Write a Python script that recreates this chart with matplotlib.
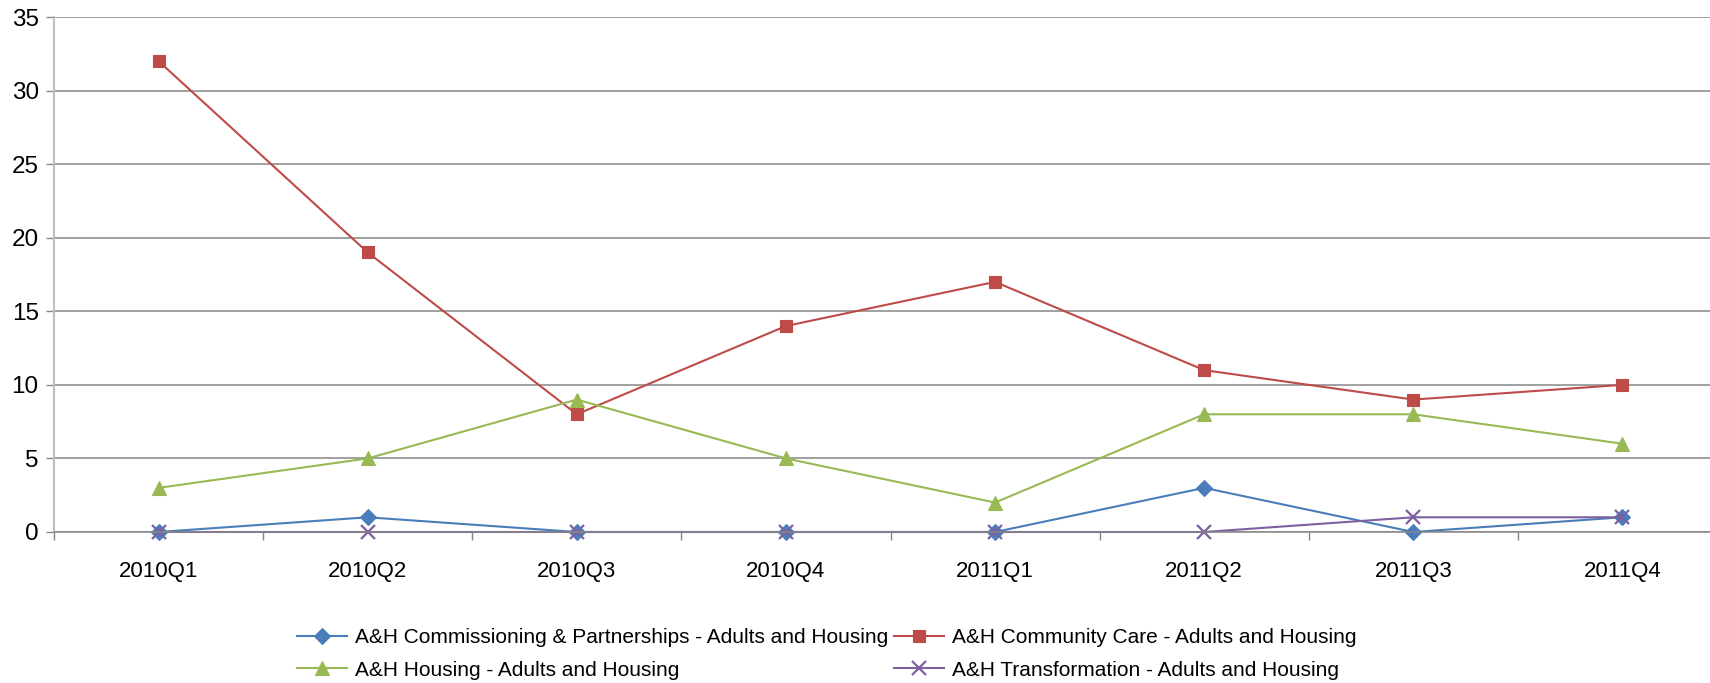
import matplotlib
matplotlib.use("Agg")
import matplotlib.pyplot as plt
from matplotlib.ticker import FixedLocator, NullFormatter

plt.rcParams["font.family"] = ["Liberation Sans", "DejaVu Sans"]

quarters = ["2010Q1", "2010Q2", "2010Q3", "2010Q4", "2011Q1", "2011Q2", "2011Q3", "2011Q4"]
commissioning = [0, 1, 0, 0, 0, 3, 0, 1]
community_care = [32, 19, 8, 14, 17, 11, 9, 10]
housing = [3, 5, 9, 5, 2, 8, 8, 6]
transformation = [0, 0, 0, 0, 0, 0, 1, 1]

series = [
    ("A&H Commissioning & Partnerships - Adults and Housing", commissioning, "#4A7EBB", "D", 8),
    ("A&H Community Care - Adults and Housing", community_care, "#BE4B48", "s", 8.5),
    ("A&H Housing - Adults and Housing", housing, "#98B954", "^", 9.5),
    ("A&H Transformation - Adults and Housing", transformation, "#7D60A0", "x", 9.5),
]

W, H = 1710, 683
fig = plt.figure(figsize=(W / 100, H / 100), dpi=100)
ax = fig.add_axes([54 / W, 1 - 532 / H, (1727 - 54) / W, (532 - 17) / H])

x = list(range(len(quarters)))
lines = []
for label, vals, col, mk, ms in series:
    ln, = ax.plot(x, vals, color=col, lw=1.5, marker=mk, markersize=ms,
                  markerfacecolor=col, markeredgecolor=col,
                  markeredgewidth=1.6 if mk == "x" else 0.8, label=label, clip_on=False)
    lines.append(ln)

ax.set_xlim(-0.5, len(quarters) - 0.5)
ax.set_ylim(0, 35)
ax.set_yticks(range(0, 36, 5))
ax.yaxis.grid(True, color="#868686", lw=1.1)
ax.set_axisbelow(True)

ax.set_xticks(x)
ax.set_xticklabels(quarters, fontsize=16)
ax.tick_params(axis="x", which="major", length=0, pad=21)
ax.xaxis.set_minor_locator(FixedLocator([i + 0.5 for i in range(-1, len(quarters))]))
ax.xaxis.set_minor_formatter(NullFormatter())
ax.tick_params(axis="x", which="minor", length=6, color="#868686", width=1)
ax.tick_params(axis="y", labelsize=17.5, length=6, color="#868686", width=1, pad=5)

for s in ("top", "right"):
    ax.spines[s].set_visible(False)
ax.spines["left"].set_color("#BFBFBF")
ax.spines["left"].set_linewidth(1.5)
ax.spines["bottom"].set_color("#868686")
ax.spines["bottom"].set_linewidth(1.1)

# legend fills row by row: commissioning | community care / housing | transformation
order = [0, 2, 1, 3]
fig.legend([lines[i] for i in order], [series[i][0] for i in order],
           loc="upper left", bbox_to_anchor=(297 / W, 1 - 628 / H), ncol=2,
           frameon=False, fontsize=15, handlelength=2.4, handletextpad=0.4,
           columnspacing=0.25, labelspacing=0.65, borderaxespad=0, borderpad=0)

fig.savefig("out.png", dpi=100)
